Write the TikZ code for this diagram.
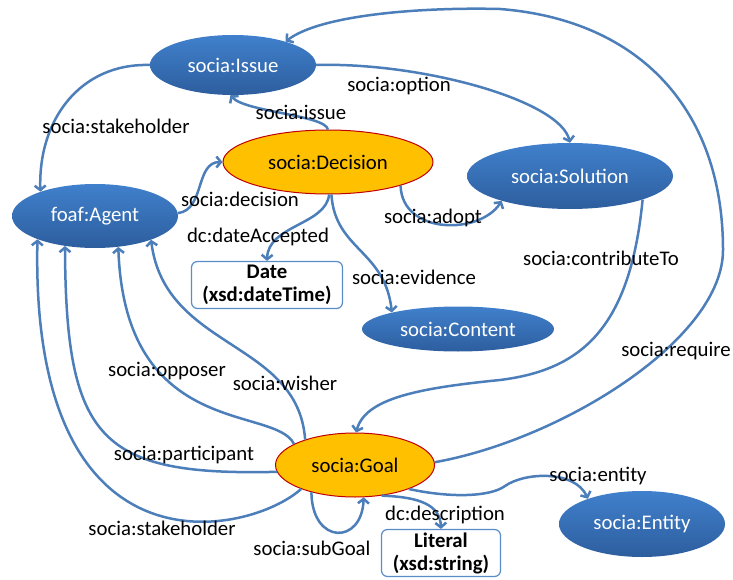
\documentclass[tikz,border=0pt]{standalone}
\usepackage{fontspec}
\setmainfont{Carlito}
\usetikzlibrary{shapes.geometric, arrows.meta}

\definecolor{edgeblue}{RGB}{76,126,186}
\definecolor{nodetop}{RGB}{64,128,204}
\definecolor{nodebot}{RGB}{45,94,158}
\definecolor{goalfill}{RGB}{255,192,0}
\definecolor{goalline}{RGB}{192,0,0}
\definecolor{boxline}{RGB}{90,140,200}

\tikzset{
    classnode/.style={ellipse, inner sep=0pt, top color=nodetop, bottom color=nodebot,
        text=white, font=\fontsize{20.8}{24}\selectfont},
    mainnode/.style={ellipse, inner sep=0pt, fill=goalfill, draw=goalline, line width=1pt,
        font=\fontsize{20.8}{24}\selectfont},
    literalbox/.style={rectangle, rounded corners=6pt, inner sep=0pt, fill=white, draw=boxline,
        line width=1.2pt, align=center, font=\fontsize{20.8}{23}\selectfont\bfseries},
    prop/.style={draw=edgeblue, line width=2.5pt, -{Straight Barb[length=4.5pt,width=11pt]}},
    proplabel/.style={inner sep=0pt, font=\fontsize{20.8}{24}\selectfont},
}

\begin{document}
\begin{tikzpicture}[x=1pt, y=-1pt]
        \useasboundingbox (0,0) rectangle (733,580);

        % classes
        \node[classnode, minimum width=166pt, minimum height=60pt] (issue) at (233,65) {socia:Issue};
        \node[mainnode, minimum width=210pt, minimum height=64pt] (decision) at (328,162) {socia:Decision};
        \node[classnode, minimum width=206pt, minimum height=66pt] (solution) at (570,176) {socia:Solution};
        \node[classnode, minimum width=166pt, minimum height=64pt] (agent) at (95,216) {foaf:Agent};
        \node[literalbox, minimum width=151pt, minimum height=47pt] (date) at (267,285) {Date\\(xsd:dateTime)};
        \node[classnode, minimum width=192pt, minimum height=45pt] (content) at (458,329) {socia:Content};
        \node[mainnode, minimum width=159pt, minimum height=64pt] (goal) at (355,465) {socia:Goal};
        \node[classnode, minimum width=166pt, minimum height=66pt] (entity) at (642,524) {socia:Entity};
        \node[literalbox, minimum width=119pt, minimum height=47pt] (literal) at (441,553) {Literal\\(xsd:string)};

        % properties
        \draw[prop] (issue.180) .. controls (80,63) and (38,120) .. (agent.156);
        \draw[prop] (decision.90) .. controls (325,115) and (245,112) .. (issue.265);
        \draw[prop] (issue.0) .. controls (420,62) and (560,100) .. (solution.90);
        \draw[prop] (agent.2) .. controls (205,210) and (195,162) .. (decision.180);
        \draw[prop] (decision.272) .. controls (326,225) and (268,225) .. (date.north);
        \draw[prop] (decision.276) .. controls (335,250) and (385,250) .. (content.166);
        \draw[prop] (decision.342) .. controls (402,235) and (480,235) .. (solution.200);
        \draw[prop] (solution.342) .. controls (630,330) and (580,370) .. (500,380)
            .. controls (420,388) and (365,398) .. (goal.88);
        \draw[prop] (goal.2) .. controls (560,440) and (723,340) .. (723,250)
            .. controls (723,110) and (640,20) .. (500,9)
            .. controls (420,7) and (320,15) .. (issue.24);
        \draw[prop] (goal.153) .. controls (298,340) and (165,350) .. (agent.337);
        \draw[prop] (goal.161) .. controls (275,405) and (125,440) .. (agent.307);
        \draw[prop] (goal.185) .. controls (100,476) and (66,440) .. (agent.225);
        \draw[prop] (goal.204) .. controls (250,535) and (30,585) .. (agent.202);
        \draw[prop] (goal.212) .. controls (312,545) and (362,545) .. (goal.285);
        \draw[prop] (goal.311) .. controls (420,497) and (440,505) .. (literal.north);
        \draw[prop] (goal.336) .. controls (450,498) and (490,497) .. (505,486)
            .. controls (525,472) and (575,470) .. (entity.155);

        % property names
        \node[proplabel] (l-stakeholder) at (116,126) {socia:stakeholder};
        \node[proplabel] (l-issue) at (301,112) {socia:issue};
        \node[proplabel] (l-option) at (399,86) {socia:option};
        \node[proplabel] (l-decision) at (240,199) {socia:decision};
        \node[proplabel] (l-date) at (258,237) {dc:dateAccepted};
        \node[proplabel] (l-evidence) at (414,277) {socia:evidence};
        \node[proplabel] (l-adopt) at (433,218) {socia:adopt};
        \node[proplabel] (l-contribute) at (601,258) {socia:contributeTo};
        \node[proplabel] (l-require) at (676,351) {socia:require};
        \node[proplabel] (l-opposer) at (167,371) {socia:opposer};
        \node[proplabel] (l-wisher) at (285,383) {socia:wisher};
        \node[proplabel] (l-participant) at (184,455) {socia:participant};
        \node[proplabel] (l-stakeholder2) at (162,528) {socia:stakeholder};
        \node[proplabel] (l-subgoal) at (312,548) {socia:subGoal};
        \node[proplabel] (l-description) at (445,515) {dc:description};
        \node[proplabel] (l-entity) at (598,476) {socia:entity};
    \end{tikzpicture}
\end{document}
